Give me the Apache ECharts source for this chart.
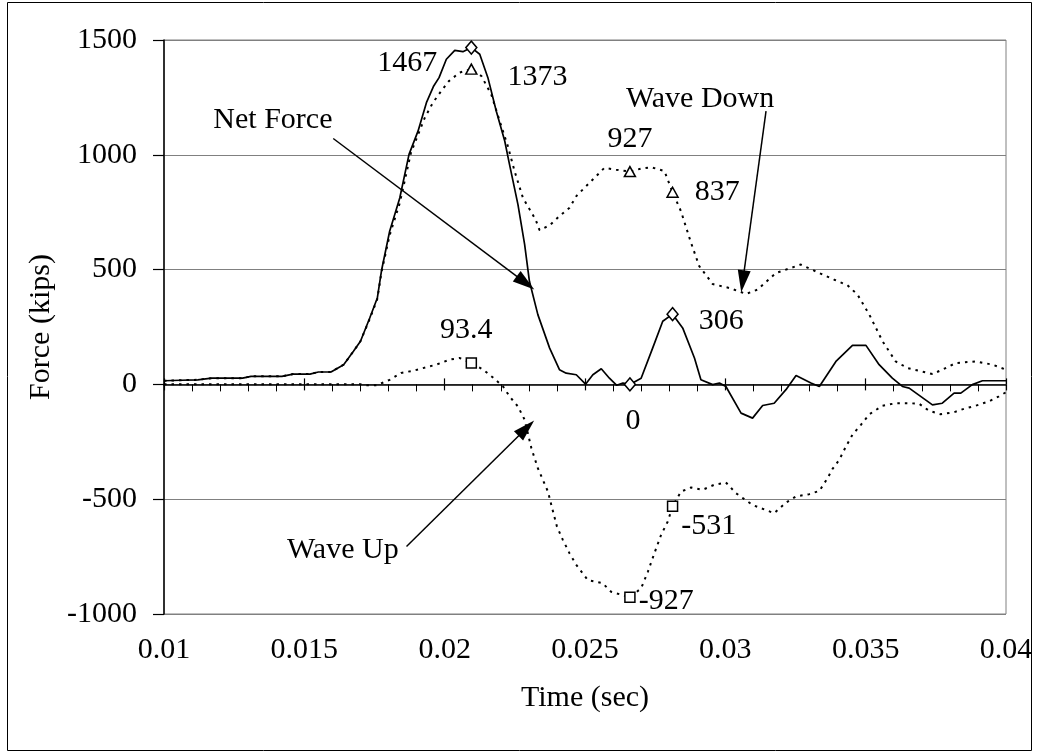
<!DOCTYPE html>
<html><head><meta charset="utf-8">
<script src="https://cdn.jsdelivr.net/npm/echarts@6/dist/echarts.min.js"></script>
<style>html,body{margin:0;padding:0;background:#fff}#c{width:1039px;height:753px}</style>
</head><body><div id="c"></div>
<script>
// ---- data (time in seconds, force in kips) ----
const netForce = [[0.0100,16],[0.0106,18],[0.0112,20],[0.0117,27],[0.0128,27],[0.0131,35],[0.0142,35],[0.0146,45],[0.0152,45],[0.0155,54],[0.01595,54],[0.0164,86],[0.01675,144],[0.0170,188],[0.01733,289],[0.0176,376],[0.01775,496],[0.01804,667],[0.0184,812],[0.01873,1002],[0.01905,1103],[0.01935,1227],[0.01961,1300],[0.0198,1336],[0.02006,1416],[0.02036,1455],[0.02065,1449],[0.02095,1467],[0.02125,1438],[0.02154,1336],[0.02184,1190],[0.02214,1060],[0.02231,958],[0.02261,784],[0.02285,609],[0.02302,449],[0.02332,304],[0.02374,158],[0.02409,64],[0.02433,49],[0.02469,42],[0.02502,1],[0.02528,42],[0.02558,68],[0.02587,27],[0.02613,-4],[0.02635,6],[0.0266,0],[0.0270,27],[0.02741,158],[0.02777,275],[0.02812,306],[0.02848,246],[0.0289,115],[0.02913,20],[0.02955,-1],[0.02979,6],[0.03002,-9],[0.03056,-125],[0.03097,-147],[0.03133,-92],[0.03174,-82],[0.03216,-23],[0.03252,39],[0.03305,6],[0.03335,-9],[0.03394,100],[0.03453,170],[0.03501,170],[0.03548,86],[0.03595,27],[0.03631,-9],[0.03655,-16],[0.03738,-89],[0.03773,-82],[0.03815,-38],[0.03839,-38],[0.0388,-1],[0.03916,16],[0.0400,16]];
const waveDown = [[0.0100,16],[0.0106,18],[0.0112,20],[0.0117,27],[0.0128,27],[0.0131,35],[0.0142,35],[0.0146,45],[0.0152,45],[0.0155,54],[0.01595,54],[0.0164,86],[0.01675,144],[0.0170,188],[0.01733,285],[0.0176,372],[0.01775,490],[0.01804,650],[0.0184,790],[0.0188,1010],[0.01929,1161],[0.01958,1227],[0.01988,1278],[0.02015,1321],[0.02053,1358],[0.02095,1373],[0.02131,1343],[0.02166,1263],[0.02196,1147],[0.02225,1038],[0.02249,929],[0.02279,812],[0.02324,718],[0.02338,672],[0.02374,693],[0.02409,733],[0.02445,769],[0.02469,820],[0.02498,856],[0.02534,900],[0.02569,943],[0.02611,935],[0.0266,927],[0.0270,940],[0.02736,946],[0.02783,929],[0.02812,837],[0.02842,754],[0.02878,616],[0.02907,515],[0.02955,437],[0.03014,420],[0.03074,394],[0.03115,413],[0.0318,485],[0.03269,522],[0.03335,485],[0.03388,456],[0.03435,432],[0.03471,391],[0.03513,304],[0.0356,188],[0.03607,100],[0.03649,71],[0.03738,45],[0.03773,64],[0.03821,93],[0.03892,100],[0.03952,86],[0.0400,64]];
const waveUp = [[0.0100,1],[0.0170,1],[0.01721,-4],[0.01757,-4],[0.01804,20],[0.01845,50],[0.0189,60],[0.01923,71],[0.0197,86],[0.02018,108],[0.02053,115],[0.02095,93.4],[0.02137,64],[0.02172,30],[0.02208,-9],[0.02231,-52],[0.02261,-96],[0.02285,-154],[0.02309,-278],[0.02332,-365],[0.02368,-467],[0.0238,-525],[0.0240,-619],[0.02421,-677],[0.02445,-736],[0.02469,-786],[0.0251,-852],[0.02563,-866],[0.02593,-903],[0.0266,-927],[0.0270,-888],[0.02724,-816],[0.02747,-736],[0.02771,-656],[0.02795,-597],[0.02812,-531],[0.02842,-467],[0.02878,-449],[0.02919,-459],[0.02961,-437],[0.03002,-427],[0.03038,-474],[0.03097,-525],[0.03174,-561],[0.03216,-515],[0.03252,-488],[0.03299,-478],[0.03335,-464],[0.03364,-409],[0.03382,-368],[0.03406,-328],[0.0343,-270],[0.03453,-219],[0.03483,-176],[0.03513,-130],[0.0356,-93],[0.03607,-82],[0.03655,-82],[0.0369,-84],[0.03726,-115],[0.03767,-130],[0.03815,-121],[0.03851,-106],[0.03892,-93],[0.03939,-74],[0.03975,-52],[0.0400,-34]];
const markerTime = [0.02095, 0.0266, 0.02812];
const netMarkers = [1467, 0, 306];
const downMarkers = [1373, 927, 837];
const upMarkers = [93.4, -927, -531];
const seriesNames = ['Net Force', 'Wave Down', 'Wave Up'];
const axisTitles = {x: 'Time (sec)', y: 'Force (kips)'};

// ---- styling / layout ----
const FONT = '"Liberation Serif","Times New Roman",serif';
const txt = {fontFamily: FONT, fontSize: 30, color: '#000'};
const netLabelCfg = [{position:'left', distance:28, offset:[0,16]}, {position:'bottom', distance:14, offset:[3,0]}, {position:'right', distance:20, offset:[0,7]}];
const downLabelCfg = [{position:'right', distance:30, offset:[0,8]}, {position:'top', distance:12, offset:[0,0]}, {position:'right', distance:16, offset:[0,0]}];
const upLabelCfg = [{position:'top', distance:12, offset:[-5,0]}, {position:'right', distance:3, offset:[0,4]}, {position:'right', distance:3, offset:[0,20]}];

function markerData(vals, cfg) {
  return vals.map((v, i) => ({
    value: [markerTime[i], v],
    label: Object.assign({show: true, formatter: String(v)}, txt, cfg[i])
  }));
}
const hollow = {color: '#fff', borderColor: '#000', borderWidth: 1.5, opacity: 1};
const arrowLine = (from, to) => ({
  silent: true, symbol: ['none', 'triangle'], symbolSize: [13, 22],
  lineStyle: {color: '#000', width: 1.5, type: 'solid'}, label: {show: false},
  data: [[{coord: from}, {coord: to}]]
});
const textPoint = (text, at) => ({
  silent: true, symbol: 'circle', symbolSize: 0,
  label: Object.assign({show: true, position: 'inside', formatter: text}, txt),
  data: [{coord: at}]
});

const chart = echarts.init(document.getElementById('c'), null, {renderer: 'canvas'});
const xBase = {type: 'value', min: 0.01, max: 0.04, interval: 0.005, splitLine: {show: false}};
chart.setOption({
  animation: false,
  backgroundColor: '#fff',
  graphic: [{type: 'rect', shape: {x: 7.5, y: 2.5, width: 1024, height: 748}, style: {fill: 'none', stroke: '#000', lineWidth: 1}, z: -1}],
  grid: {left: 164, right: 33, top: 40, bottom: 139, show: true, borderColor: '#808080', borderWidth: 1, backgroundColor: 'transparent'},
  xAxis: [
    Object.assign({}, xBase, {position: 'bottom', axisLine: {show: false, onZero: false}, axisTick: {show: false},
      axisLabel: Object.assign({margin: 21}, txt),
      name: axisTitles.x, nameLocation: 'middle', nameGap: 69, nameTextStyle: txt}),
    Object.assign({}, xBase, {position: 'bottom', axisLine: {show: true, onZero: true, onZeroAxisIndex: 0, lineStyle: {color: '#000', width: 1.5}},
      axisTick: {show: true, length: 6, lineStyle: {color: '#000', width: 1.2}},
      minorTick: {show: true, splitNumber: 5, length: 7, lineStyle: {color: '#000', width: 1}},
      axisLabel: {show: false}}),
    Object.assign({}, xBase, {position: 'bottom', axisLine: {show: false, onZero: true, onZeroAxisIndex: 0},
      axisTick: {show: true, inside: true, length: 6, lineStyle: {color: '#000', width: 1.2}},
      axisLabel: {show: false}})
  ],
  yAxis: {
    type: 'value', min: -1000, max: 1500, interval: 500,
    axisLine: {show: true, onZero: false, lineStyle: {color: '#000', width: 1.5}},
    axisTick: {show: true, length: 11, lineStyle: {color: '#000', width: 1.2}},
    axisLabel: Object.assign({margin: 27, formatter: v => String(v)}, txt),
    splitLine: {lineStyle: {color: '#808080', width: 1}},
    name: axisTitles.y, nameLocation: 'middle', nameGap: 108, nameTextStyle: txt
  },
  series: [
    {name: seriesNames[0], type: 'line', data: netForce, symbol: 'none', z: 3,
      lineStyle: {color: '#000', width: 1.7, type: 'solid'},
      markLine: arrowLine([0.01603, 1071], [0.02288, 442]),
      markPoint: textPoint(seriesNames[0], [0.01388, 1151])},
    {name: seriesNames[1], type: 'line', data: waveDown, symbol: 'none', z: 2,
      lineStyle: {color: '#000', width: 2, type: [2.5, 5]},
      markLine: arrowLine([0.03145, 1190], [0.03062, 449]),
      markPoint: textPoint(seriesNames[1], [0.0291, 1243])},
    {name: seriesNames[2], type: 'line', data: waveUp, symbol: 'none', z: 2,
      lineStyle: {color: '#000', width: 2, type: [2.5, 5]},
      markLine: arrowLine([0.01864, -706], [0.02291, -191]),
      markPoint: textPoint(seriesNames[2], [0.01637, -720])},
    {type: 'scatter', data: markerData(netMarkers, netLabelCfg), symbol: 'diamond', symbolSize: [11, 13], itemStyle: hollow, z: 5},
    {type: 'scatter', data: markerData(downMarkers, downLabelCfg), symbol: 'triangle', symbolSize: [11, 10], itemStyle: hollow, z: 5},
    {type: 'scatter', data: markerData(upMarkers, upLabelCfg), symbol: 'rect', symbolSize: [10, 10], itemStyle: hollow, z: 5}
  ]
});
</script>
</body></html>
